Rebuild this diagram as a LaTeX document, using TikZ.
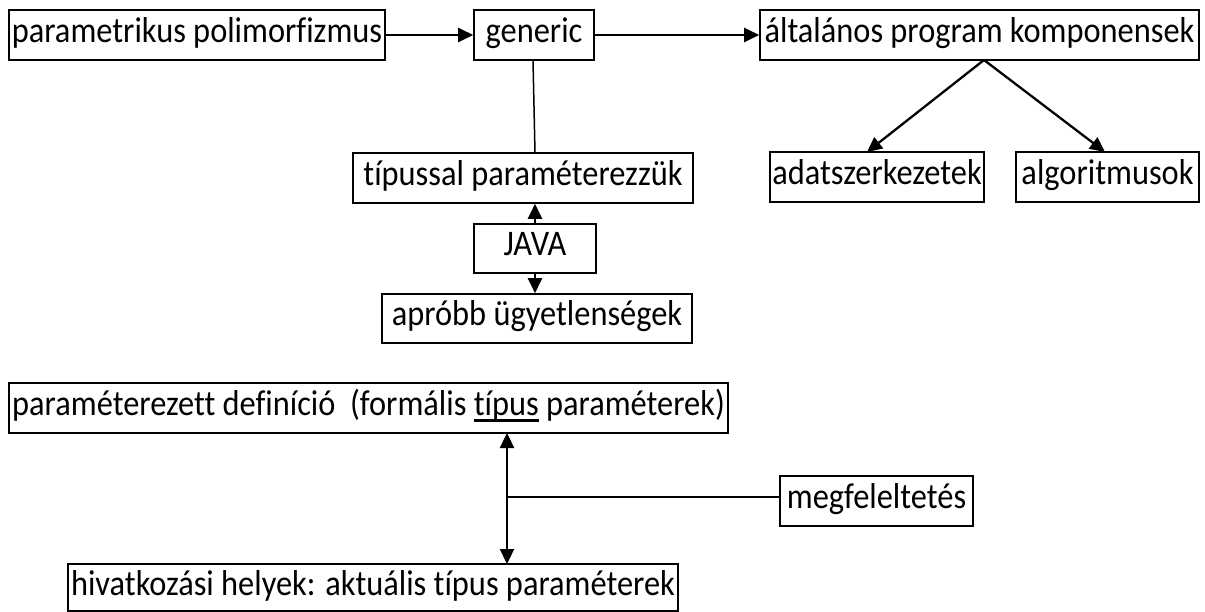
\documentclass[tikz,border=0pt]{standalone}
\usepackage{fontspec}
\setmainfont{Carlito}[Ligatures=NoCommon, FakeStretch=0.9]
\usetikzlibrary{arrows.meta}
\newcommand{\myul}[1]{\setbox0\hbox{#1}\rlap{\rule[-6pt]{\wd0}{2.6pt}}\box0\relax}
\begin{document}
\begin{tikzpicture}[x=1pt,y=-1pt,
  box/.style={draw, line width=1.6pt, inner sep=0pt, anchor=center,
    text height=24pt, text depth=9pt,
    font=\fontsize{36}{42}\selectfont},
  arr/.style={line width=2.3pt, -{Triangle[length=15pt,width=14pt]}},
  darr/.style={line width=2.3pt, {Triangle[length=15pt,width=14pt]}-{Triangle[length=15pt,width=14pt]}},
  thin/.style={line width=1.5pt}]
\useasboundingbox (0,0) rectangle (1205,612);
\newcommand{\bx}[6]{\node[box, minimum width={#4-#2}, minimum height={#5-#3}] (#1) at ({(#2+#4)/2},{(#3+#5)/2}) {#6};}
\bx{pp}{9}{10}{385}{60}{parametrikus polimorfizmus}
\bx{gen}{474}{10}{594}{60}{generic}
\bx{apk}{760}{10}{1199}{60}{általános program komponensek}
\bx{tip}{353}{153}{693}{203}{típussal paraméterezzük}
\bx{java}{474}{224}{596}{273}{JAVA}
\bx{apr}{382}{294}{692}{343}{apróbb ügyetlenségek}
\bx{adat}{770}{152}{984}{202}{adatszerkezetek}
\bx{alg}{1016}{152}{1199}{202}{algoritmusok}
\bx{pd}{9}{383}{728}{433}{paraméterezett definíció\ \ (formális \myul{típus} paraméterek)}
\bx{mf}{780}{476}{973}{526}{megfeleltetés}
\bx{hiv}{68}{564}{678}{611}{hivatkozási helyek: aktuális típus paraméterek}
\draw[arr] (pp.east) -- (gen.west);
\draw[arr] (gen.east) -- (apk.west);
\coordinate (gb) at (533,60);
\coordinate (tt) at (535,153);
\draw[thin] (gb) -- (tt);
\coordinate (ab) at (984,60);
\draw[arr] (ab) -- (867,152);
\draw[arr] (ab) -- (1105,152);
\draw[arr] (java.north) -- (java.north |- tip.south);
\draw[arr] (java.south) -- (java.south |- apr.north);
\coordinate (vt) at (507,433);
\coordinate (vb) at (507,564);
\coordinate (vm) at (507,497);
\draw[darr] (vt) -- (vb);
\draw[thin] (vm) -- (vm -| mf.west);
\end{tikzpicture}
\end{document}
